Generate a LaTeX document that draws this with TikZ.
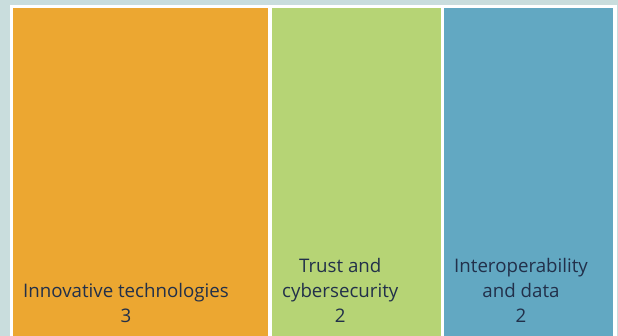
\documentclass[tikz,border=0pt]{standalone}
\usepackage{fontspec}
\setmainfont{Open Sans}
\definecolor{bgc}{HTML}{C9DDDD}
\definecolor{orangec}{HTML}{ECA731}
\definecolor{greenc}{HTML}{B6D475}
\definecolor{bluec}{HTML}{62A8C2}
\definecolor{txtc}{HTML}{22304A}
\begin{document}
\begin{tikzpicture}[x=1pt,y=-1pt,
  lbl/.style={anchor=south west,inner sep=0pt,align=center,text=txtc,
    font=\fontsize{18.7}{25}\selectfont}]
\useasboundingbox (0,0) rectangle (618,336);
\fill[bgc] (0,0) rectangle (618,336);
\fill[white] (10,5) rectangle (617,340);
\fill[orangec] (13,8) rectangle (268,340);
\fill[greenc] (272,8) rectangle (441,340);
\fill[bluec] (444,8) rectangle (613,340);
\node[lbl] (t1) at (23,323) {Innovative technologies\\3};
\node[lbl] (t2) at (282,323) {Trust and\\cybersecurity\\2};
\node[lbl] (t3) at (454,323) {Interoperability\\and data\\2};
\end{tikzpicture}
\end{document}
